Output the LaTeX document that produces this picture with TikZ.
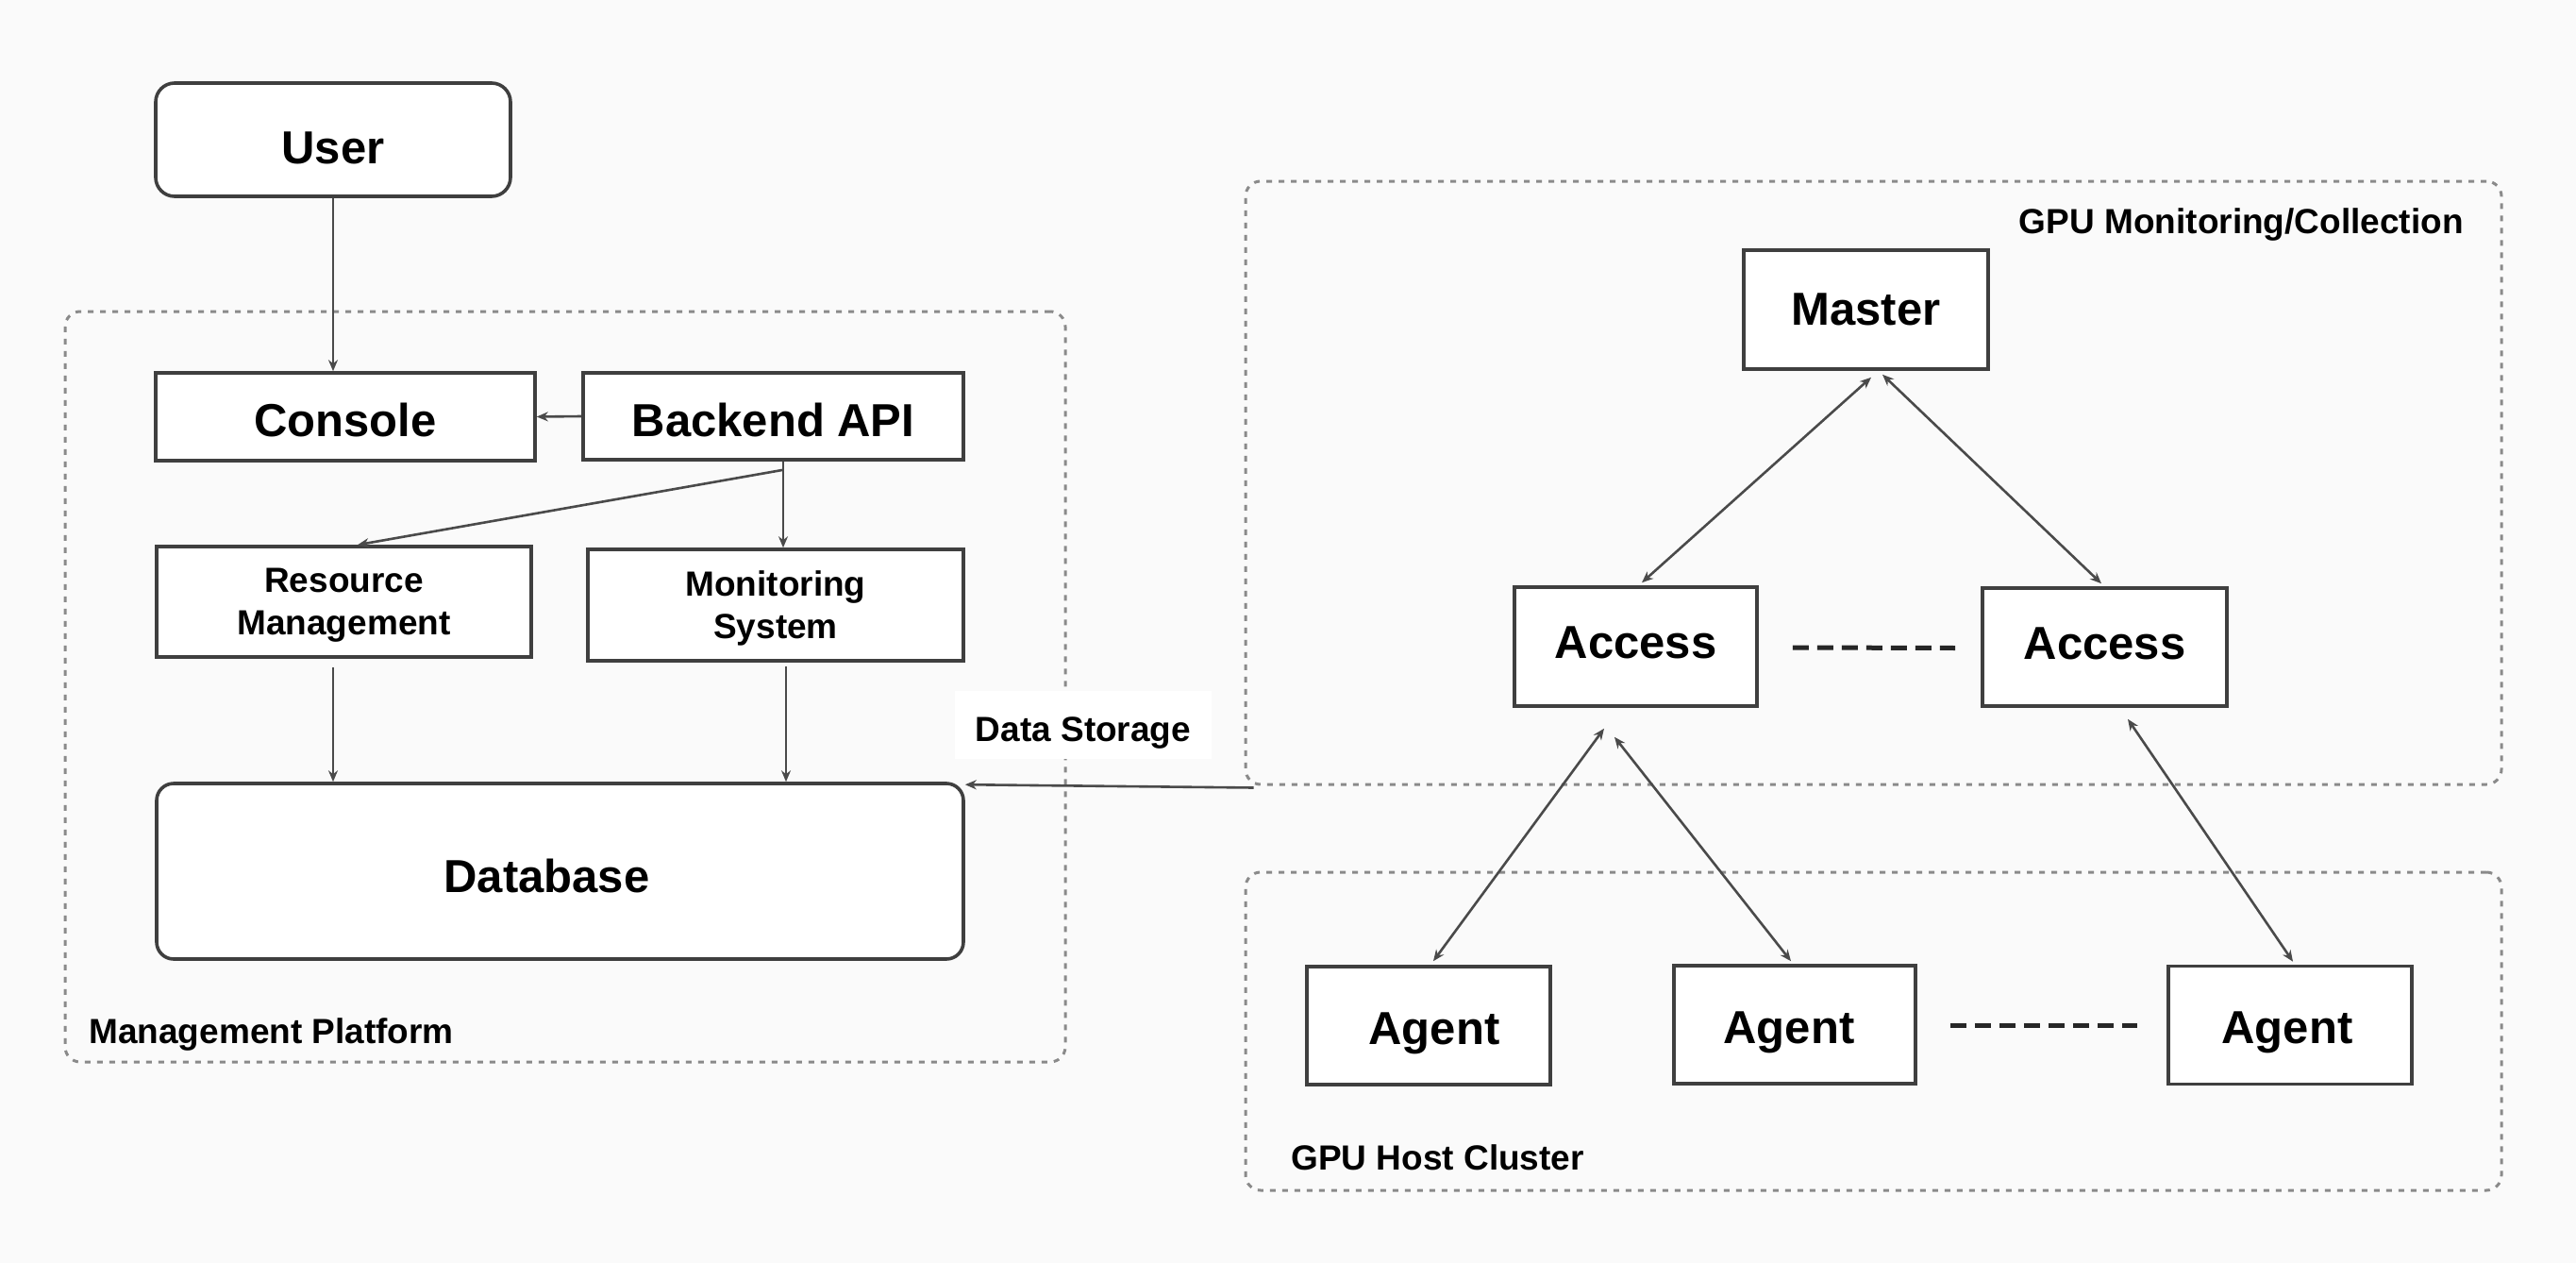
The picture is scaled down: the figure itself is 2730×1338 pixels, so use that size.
\documentclass[tikz,border=0pt]{standalone}
\usepackage{fontspec}
\setmainfont{Liberation Sans}
\usetikzlibrary{arrows.meta,calc}
\definecolor{bgc}{HTML}{FAFAFA}
\definecolor{boxline}{HTML}{3F3F3F}
\definecolor{conn}{HTML}{4A4A4A}
\definecolor{grpline}{HTML}{8A8A8A}
\newcommand\lblbig{\bfseries\fontsize{24.5}{29}\selectfont}
\newcommand\lblsmall{\bfseries\fontsize{18.5}{22.5}\selectfont}
\begin{document}
\begin{tikzpicture}[x=0.5pt,y=-0.5pt,
  box/.style={draw=boxline, line width=1.8pt, fill=white, inner sep=0pt, font=\lblbig, align=center, text depth=0pt},
  smallbox/.style={box, font=\lblsmall},
  group/.style={draw=grpline, line width=1.5pt, dash pattern=on 3pt off 3.5pt, rounded corners=8pt, inner sep=0pt},
  grplabel/.style={font=\lblsmall, inner sep=0pt},
  conn/.style={draw=conn, line width=1.3pt, -{Stealth[length=6pt,width=5pt]}},
  biconn/.style={draw=conn, line width=1.3pt, {Stealth[length=6pt,width=5pt]}-{Stealth[length=6pt,width=5pt]}},
  ellip/.style={draw=black!85, line width=2.5pt, dash pattern=on 8.5pt off 4.5pt}
]
\useasboundingbox[fill=bgc] (0,0) rectangle (2730,1338);

% containers
\node[group, minimum width=530pt, minimum height=397.5pt] (mp) at (599,727.5) {};
\node[group, minimum width=665.5pt, minimum height=319.5pt] (gm) at (1985.5,511.5) {};
\node[group, minimum width=665.5pt, minimum height=168.5pt] (gh) at (1985.5,1092.5) {};

\node[grplabel, anchor=west] (mplbl) at (94,1096) {Management Platform};
\node[grplabel, anchor=east] (gmlbl) at (2611,238) {GPU Monitoring/Collection};
\node[grplabel, anchor=west] (ghlbl) at (1368,1226) {GPU Host Cluster};

% left side nodes
\node[box, text height=25.5pt, rounded corners=10pt, minimum width=188pt, minimum height=60pt] (user) at (353,148) {User};
\node[box, text height=21pt, minimum width=201pt, minimum height=46.5pt] (console) at (366,441.5) {Console};
\node[box, text height=21pt, minimum width=201.5pt, minimum height=46pt] (backend) at (819.5,441) {Backend API};
\node[smallbox, minimum width=198.5pt, minimum height=58.5pt] (rm) at (364.5,637.5) {Resource\\Management};
\node[smallbox, minimum width=199pt, minimum height=59pt] (ms) at (822,641) {Monitoring\\System};
\node[box, text height=22.5pt, rounded corners=9pt, minimum width=427.5pt, minimum height=93pt] (db) at (593.5,923) {Database\hspace{14pt}};

\node[font=\lblsmall, fill=white, inner sep=0pt, text height=17.2pt, text depth=0pt, minimum width=136pt, minimum height=36pt] (dslbl) at (1148,768) {Data Storage\hspace{11pt}};

% right side nodes
\node[box, minimum width=129.5pt, minimum height=63pt] (master) at (1977.5,328) {Master};
\node[box, text height=12.5pt, minimum width=128.5pt, minimum height=63pt] (acc1) at (1733.5,685) {Access};
\node[box, text height=12.5pt, minimum width=129.5pt, minimum height=62.5pt] (acc2) at (2230.5,685.5) {Access};
\node[box, text height=19.5pt, minimum width=129pt, minimum height=62.5pt] (ag1) at (1514,1086.5) {\hspace{6pt}Agent};
\node[box, text height=19.5pt, minimum width=128pt, minimum height=62.5pt] (ag2) at (1902,1085.5) {Agent\hspace{6pt}};
\node[box, text height=19.5pt, minimum width=129pt, minimum height=62.5pt] (ag3) at (2427,1086) {Agent\hspace{3pt}};

% helper coordinates
\coordinate (bj) at ($(backend.south)+(10.5,0)$);
\coordinate (bj2) at ($(bj)+(0,9)$);
\coordinate (rmtop) at ($(rm.north)+(14.5,0)$);
\coordinate (rmbot) at ($(rm.south)+(-11.5,9)$);
\coordinate (msbot) at ($(ms.south)+(11,4)$);
\coordinate (gmcorner) at ($(gm.south west)+(10,2)$);
\coordinate (dbcorner) at ($(db.north east)+(0,3)$);

% connectors left
\draw[conn] (user.south) -- (user.south |- console.north);
\draw[conn] (backend.west) -- (console.east);
\draw[conn] (bj) -- (bj |- ms.north);
\draw[conn] (bj2) -- (rmtop);
\draw[conn] (rmbot) -- (rmbot |- db.north);
\draw[conn] (msbot) -- (msbot |- db.north);
\draw[conn] (gmcorner) -- (dbcorner);

% connectors right
\draw[biconn] ($(master.south)+(5.5,7)$) -- ($(acc1.north)+(6.5,-3)$);
\draw[biconn] ($(master.south)+(17.5,4)$) -- ($(acc2.north)+(-3.5,-3)$);
\draw[biconn] ($(acc1.south)+(-33.5,22)$) -- ($(ag1.north)+(5,-4)$);
\draw[biconn] ($(acc1.south)+(-22.5,31)$) -- ($(ag2.north)+(-4,-3)$);
\draw[biconn] ($(acc2.south)+(24.5,12)$) -- ($(ag3.north)+(3,-3)$);

% ellipses
\draw[ellip] ($(acc1.east)+(36,1)$) -- ($(acc2.west)+(-27,1)$);
\draw[ellip] ($(ag2.east)+(35,0.5)$) -- ($(ag3.west)+(-31,0)$);
\end{tikzpicture}
\end{document}
